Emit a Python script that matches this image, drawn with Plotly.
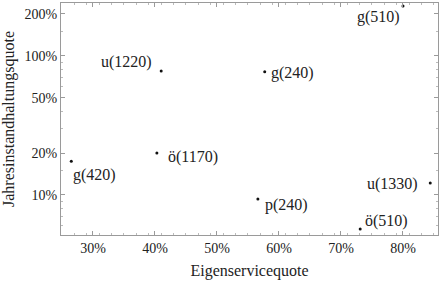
import plotly.graph_objects as go

# data (fractions)
labels = ["g(510)", "u(1220)", "g(240)", "g(420)", "ö(1170)", "u(1330)", "p(240)", "ö(510)"]
eigenservicequote = [0.800, 0.410, 0.577, 0.265, 0.403, 0.844, 0.566, 0.731]
jahresinstandhaltungsquote = [2.28, 0.778, 0.77, 0.175, 0.20, 0.122, 0.0935, 0.0569]

x_tickvals = [0.3, 0.4, 0.5, 0.6, 0.7, 0.8]
x_ticktext = ["30%", "40%", "50%", "60%", "70%", "80%"]
y_tickvals = [0.1, 0.2, 0.5, 1.0, 2.0]
y_ticktext = ["10%", "20%", "50%", "100%", "200%"]

# label placement (style): xanchor, xshift, yshift
label_style = [
    ("right", -1, -11),
    ("right", -7, 9),
    ("left", 4, -1),
    ("left", 0, -14),
    ("left", 9, -4),
    ("right", -10, -1),
    ("left", 5, -6),
    ("left", 3, 8),
]

FONT = "Liberation Serif, Times New Roman, serif"
TXT = "#222222"
FRAME = "#9a9a9a"

x_minor = [0.25 + 0.02 * i for i in range(0, 31)]
y_minor = [0.06, 0.07, 0.08, 0.09, 0.3, 0.4, 0.6, 0.7, 0.8, 0.9, 0.15, 1.5, 3.0]

fig = go.Figure()
fig.add_trace(go.Scatter(
    x=eigenservicequote, y=jahresinstandhaltungsquote, mode="markers",
    marker=dict(color="#111111", size=3, line=dict(width=0)),
    hoverinfo="skip", showlegend=False,
))

for lab, xv, yv, (xa, xs, ys) in zip(labels, eigenservicequote, jahresinstandhaltungsquote, label_style):
    import math
    fig.add_annotation(
        x=xv, y=math.log10(yv), text=lab, showarrow=False,
        xanchor=xa, yanchor="middle", xshift=xs, yshift=ys,
        font=dict(family=FONT, size=16, color=TXT),
    )

fig.update_layout(
    width=440, height=284,
    margin=dict(l=61, r=2, t=3, b=49),
    paper_bgcolor="white", plot_bgcolor="white",
    font=dict(family=FONT, size=14, color=TXT),
    xaxis=dict(
        range=[0.2484, 0.8565], tickvals=x_tickvals, ticktext=x_ticktext,
        showgrid=False, zeroline=False,
        showline=True, linecolor=FRAME, linewidth=1, mirror="allticks",
        ticks="inside", ticklen=4, tickcolor=FRAME, tickwidth=1,
        minor=dict(tickvals=x_minor, ticks="inside", ticklen=2, tickcolor="#bbbbbb"),
        tickfont=dict(family=FONT, size=14, color=TXT),
        title=dict(text="Eigenservicequote", font=dict(family=FONT, size=16, color=TXT), standoff=10),
    ),
    yaxis=dict(
        type="log", range=[-1.2876, 0.380], tickvals=y_tickvals, ticktext=y_ticktext,
        showgrid=False, zeroline=False,
        showline=True, linecolor=FRAME, linewidth=1, mirror="allticks",
        ticks="inside", ticklen=4, tickcolor=FRAME, tickwidth=1,
        minor=dict(tickvals=y_minor, ticks="inside", ticklen=2, tickcolor="#bbbbbb"),
        tickfont=dict(family=FONT, size=14, color=TXT),
        title=dict(text="Jahresinstandhaltungsquote", font=dict(family=FONT, size=16, color=TXT), standoff=6),
    ),
)

fig.write_html("out.html")
